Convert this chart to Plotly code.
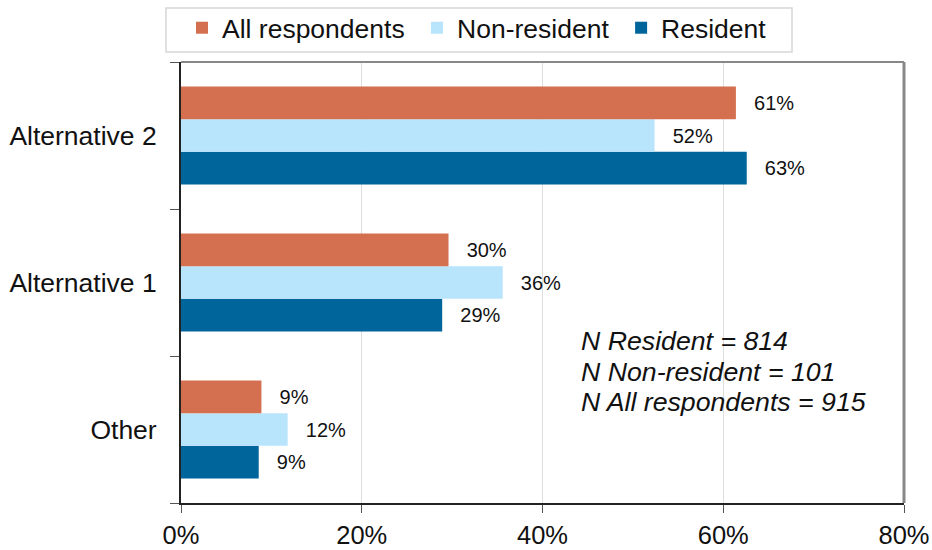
import plotly.graph_objects as go

categories = ["Other", "Alternative 1", "Alternative 2"]
all_respondents = [8.9, 29.6, 61.4]
non_resident = [11.8, 35.6, 52.4]
resident = [8.6, 28.9, 62.6]
x_ticks = [0, 20, 40, 60, 80]
x_tick_labels = ["0%", "20%", "40%", "60%", "80%"]
note_lines = ["N Resident = 814", "N Non-resident = 101", "N All respondents = 915"]

FONT = "Liberation Sans, Arial, Helvetica, sans-serif"
PAD = "\u00a0\u00a0\u2009"

W, H = 932, 550
ML, MR, MT, MB = 181, 28, 62, 47
PW, PH = W - ML - MR, H - MT - MB

series = [
    ("Resident", resident, "#00659B", ""),
    ("Non-resident", non_resident, "#B8E4FC", "\u00a0"),
    ("All respondents", all_respondents, "#D47050", "\u00a0"),
]

fig = go.Figure()
for name, vals, col, tail in series:
    fig.add_trace(go.Bar(
        name=name + tail, y=categories, x=vals, orientation="h",
        marker=dict(color=col, line=dict(width=0)),
        text=[PAD + f"{round(v)}%" for v in vals],
        textposition="outside", constraintext="none", cliponaxis=False,
        textfont=dict(size=20, color="#111", family=FONT),
    ))

def px_x(px):
    return (px - ML) / PW

def px_y(py):
    return (H - MB - py) / PH

notes = []
for i, line in enumerate(note_lines):
    notes.append(dict(
        xref="paper", yref="paper", x=px_x(579), y=px_y(341 + 30.5 * i),
        xanchor="left", yanchor="middle", align="left", showarrow=False,
        text="<i>" + line + "</i>",
        font=dict(size=26.7, family=FONT, color="#111"),
    ))

fig.update_layout(
    width=W, height=H,
    margin=dict(l=ML, r=MR, t=MT, b=MB),
    paper_bgcolor="white", plot_bgcolor="white",
    barmode="group", bargap=0.335, bargroupgap=0,
    font=dict(family=FONT, size=26, color="#111"),
    legend=dict(
        orientation="h", traceorder="reversed",
        xref="container", yref="container",
        x=(182) / W, xanchor="left", y=1 - 4 / H, yanchor="top",
        borderwidth=0, bgcolor="rgba(0,0,0,0)",
        font=dict(size=26.5, family=FONT, color="#111"),
        itemwidth=30,
    ),
    xaxis=dict(
        range=[0, 80], tickvals=x_ticks, ticktext=x_tick_labels,
        showgrid=True, gridcolor="#dddddd", gridwidth=1,
        showline=True, linecolor="#222", linewidth=2,
        ticks="outside", ticklen=8, tickcolor="#555",
        tickfont=dict(size=25.5, family=FONT), zeroline=False,
        automargin=False, ticklabeloverflow="allow",
    ),
    yaxis=dict(
        categoryorder="array", categoryarray=categories,
        showline=True, linecolor="#222", linewidth=2,
        ticks="outside", ticklen=9, tickcolor="#555", tickson="boundaries",
        ticklabelstandoff=17,
        tickfont=dict(size=26.5, family=FONT), showgrid=False,
        automargin=False,
    ),
    shapes=[
        dict(type="line", xref="paper", yref="paper", x0=0, x1=1, y0=1, y1=1,
             line=dict(color="#888", width=2)),
        dict(type="line", xref="paper", yref="paper", x0=1, x1=1, y0=0, y1=1,
             line=dict(color="#888", width=3)),
        dict(type="rect", xref="paper", yref="paper",
             x0=px_x(166), x1=px_x(792), y0=px_y(52), y1=px_y(8),
             line=dict(color="#d6d6d6", width=1.5), fillcolor="rgba(0,0,0,0)"),
    ],
    annotations=notes,
)

fig.write_html("out.html", config={"displayModeBar": False})

with open("out.html", encoding="utf-8") as f:
    html = f.read()
html = html.replace("<head>", "<head><style>html,body{margin:0;padding:0;overflow:hidden;}</style>", 1)
with open("out.html", "w", encoding="utf-8") as f:
    f.write(html)
